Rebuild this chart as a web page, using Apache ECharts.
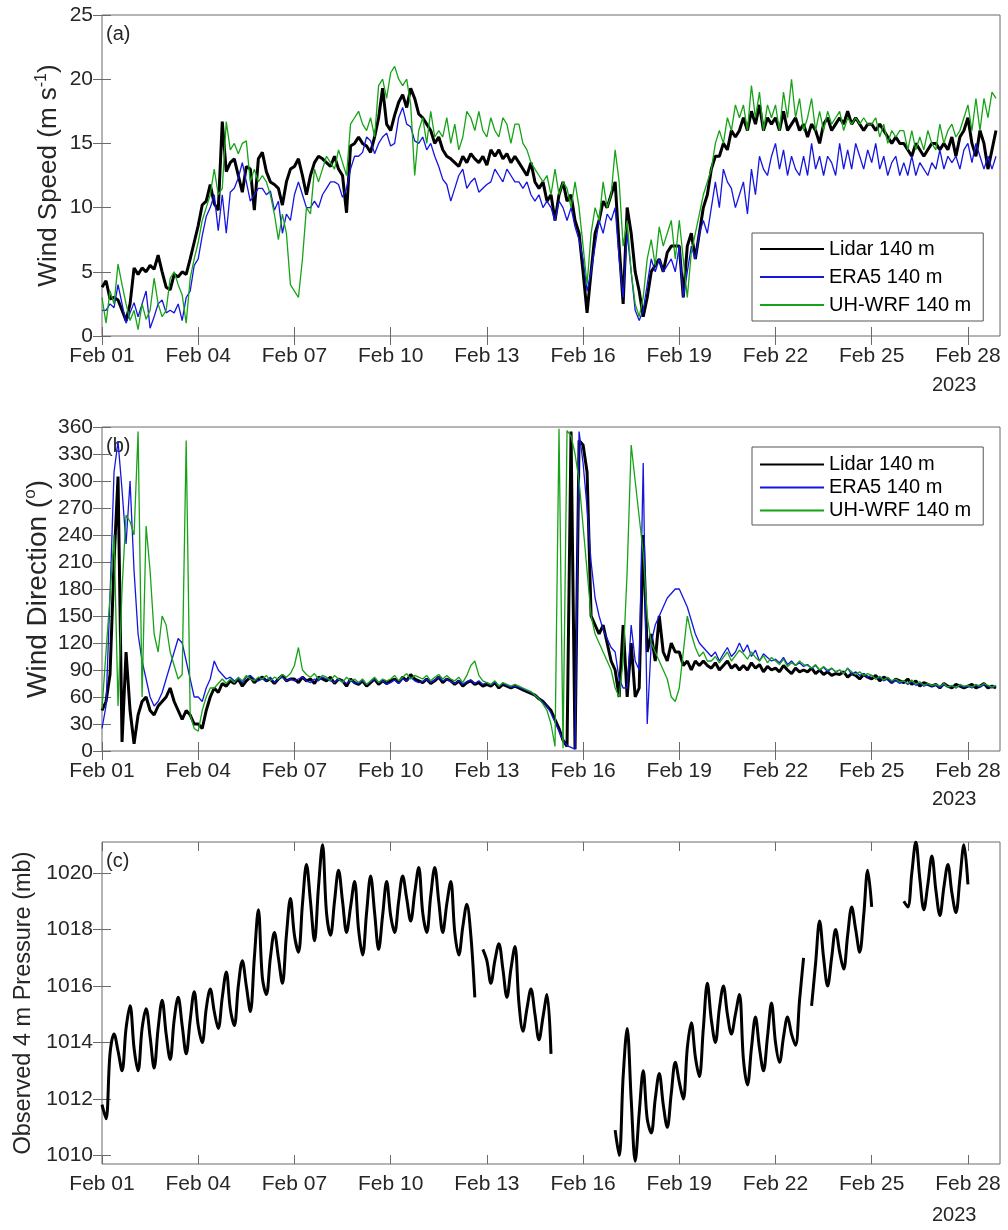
<!DOCTYPE html>
<html>
<head>
<meta charset="utf-8">
<script src="https://cdn.jsdelivr.net/npm/echarts@6.0.0/dist/echarts.min.js"></script>
<style>
  html, body { margin: 0; padding: 0; background: #fff; }
  #chart { width: 1008px; height: 1230px; }
</style>
</head>
<body>
<div id="chart"></div>
<script>
// Three stacked panels: wind speed, wind direction, surface pressure (February 2023).
// Samples are 3-hourly, starting Feb 01 00:00; x is measured in days since Feb 01.
const STEP_DAYS = 3 / 24;

const dayTicks = [0, 3, 6, 9, 12, 15, 18, 21, 24, 27];
const dayLabels = ['Feb 01', 'Feb 04', 'Feb 07', 'Feb 10', 'Feb 13', 'Feb 16', 'Feb 19', 'Feb 22', 'Feb 25', 'Feb 28'];
const speedTicks = [0, 5, 10, 15, 20, 25];
const dirTicks = [0, 30, 60, 90, 120, 150, 180, 210, 240, 270, 300, 330, 360];
const pressureTicks = [1010, 1012, 1014, 1016, 1018, 1020];
const seriesNames = ['Lidar 140 m', 'ERA5 140 m', 'UH-WRF 140 m'];

// Wind speed (m/s)
const lidarSpeed = [
  3.8,4.3,2.9,3.0,2.8,2.0,1.2,2.5,
  5.3,4.8,5.3,5.0,5.5,5.2,6.3,5.0,
  3.8,3.6,4.8,4.6,5.0,4.8,6.0,7.3,
  8.6,10.2,10.5,11.8,10.3,9.8,16.7,12.8,
  13.5,13.8,12.5,11.2,13.2,13.0,9.8,13.8,
  14.3,12.8,12.0,11.8,11.5,10.2,12.0,13.0,
  13.2,13.8,12.5,11.0,12.5,13.5,14.0,13.8,
  13.5,13.2,14.0,13.0,12.5,9.6,14.8,15.0,
  15.5,15.0,14.8,14.3,15.5,17.0,19.3,16.5,
  16.0,17.2,18.2,18.8,17.8,19.3,18.5,17.3,
  17.0,16.5,16.0,15.0,15.5,14.5,14.0,13.8,
  13.5,13.2,14.0,13.5,14.2,13.8,13.5,14.0,
  13.3,14.5,14.0,14.5,13.8,14.2,13.5,14.0,
  13.5,13.0,12.5,13.5,12.0,11.5,12.0,10.5,
  11.0,9.0,11.0,12.0,10.5,11.0,9.0,8.0,
  5.0,1.8,5.0,8.0,9.0,10.5,10.0,11.0,
  12.0,7.0,2.5,10.0,8.0,5.0,3.5,1.5,
  3.0,5.0,5.5,6.0,5.0,6.5,7.0,7.0,
  7.0,3.0,7.0,8.0,6.0,8.0,10.0,11.0,
  13.0,14.0,14.0,15.0,14.5,16.0,15.5,16.0,
  17.0,16.0,17.5,16.5,18.0,16.0,17.0,16.5,
  17.0,16.0,17.5,16.0,16.5,17.0,16.0,16.5,
  15.5,16.5,16.0,15.0,16.5,17.0,16.0,16.5,
  17.0,16.5,17.5,16.5,17.0,16.5,16.0,16.5,
  16.5,16.0,16.5,16.0,15.5,15.0,15.5,15.0,
  15.0,14.5,14.0,15.0,14.5,14.0,14.5,15.0,
  15.0,14.5,15.0,14.5,15.5,14.0,15.5,16.0,
  17.0,15.0,14.0,16.0,15.0,13.0,14.5,16.0
];
const era5Speed = [
  2.0,2.0,2.5,2.2,4.0,2.5,1.0,1.8,
  2.6,1.5,2.5,3.5,0.6,1.5,2.5,2.8,
  1.8,2.0,1.8,2.5,1.2,3.0,3.5,5.5,
  6.0,7.8,9.3,10.0,11.0,8.2,11.0,8.0,
  11.2,11.5,12.3,13.5,12.0,10.5,11.0,11.5,
  11.5,11.0,11.3,9.8,10.5,8.0,9.5,9.0,
  11.0,12.0,11.0,10.0,10.0,10.5,10.0,11.0,
  11.5,12.0,12.0,11.8,10.8,11.5,13.0,14.0,
  14.0,14.3,15.5,15.2,14.2,15.0,15.5,15.8,
  14.8,15.0,17.0,17.8,16.5,16.3,15.2,15.0,
  15.5,14.5,15.0,14.0,13.2,12.2,11.8,10.5,
  11.5,12.5,13.0,11.5,12.0,12.3,11.2,11.5,
  11.8,12.0,13.0,12.5,12.0,13.0,12.5,12.0,
  12.0,11.5,12.0,11.0,10.5,11.0,10.0,10.5,
  10.0,9.0,10.5,10.0,9.0,10.0,8.5,7.5,
  6.0,3.5,5.0,7.0,9.0,8.0,9.5,9.0,
  10.0,6.0,3.0,8.0,5.0,2.0,1.2,2.0,
  4.0,6.0,5.0,6.0,5.0,5.5,6.0,5.0,
  7.0,3.0,5.0,7.0,6.0,8.0,9.0,8.0,
  10.0,12.0,10.0,13.0,12.0,11.5,10.0,11.0,
  12.0,9.5,13.0,11.0,14.0,13.0,12.5,14.0,
  15.0,13.0,14.5,12.5,14.0,13.0,12.5,14.0,
  12.5,15.0,13.0,14.0,12.5,14.0,13.5,12.5,
  15.0,13.0,14.5,13.0,15.0,14.0,13.0,14.5,
  13.5,15.0,13.0,14.0,12.5,13.5,14.0,12.5,
  13.5,12.5,14.0,12.5,13.5,13.0,12.5,13.5,
  13.0,14.5,13.0,14.0,13.5,14.0,13.0,14.5,
  15.0,13.5,15.0,14.0,13.0,14.0,13.0,14.0
];
const wrfSpeed = [
  3.0,1.0,3.5,2.5,5.6,4.0,2.5,1.2,
  2.0,0.5,2.5,1.3,2.0,4.5,2.5,1.5,
  2.0,4.5,5.0,4.0,3.2,1.0,4.5,6.0,
  7.3,9.0,10.0,11.0,13.0,11.0,11.5,16.7,
  14.5,15.0,14.2,15.0,15.2,12.0,13.0,12.0,
  12.5,12.0,11.0,9.5,7.5,9.5,8.0,4.0,
  3.5,3.0,6.0,10.0,9.5,13.0,12.0,13.0,
  14.0,13.5,13.0,14.5,13.5,12.5,16.5,17.0,
  17.5,16.5,16.0,17.0,15.5,19.5,20.0,18.5,
  20.5,21.0,20.0,19.5,20.0,18.0,12.5,16.0,
  17.0,15.0,17.5,15.5,16.0,15.5,17.0,15.0,
  16.5,14.5,15.5,17.5,17.0,16.0,17.5,16.0,
  15.5,17.0,16.0,15.5,17.0,16.5,15.0,16.5,
  16.5,15.0,14.5,13.5,13.0,12.5,12.0,12.5,
  11.0,13.0,11.0,12.0,11.5,10.0,12.0,10.0,
  7.0,4.0,8.0,10.0,9.0,12.0,10.0,11.0,
  14.5,12.0,7.0,9.0,5.0,2.5,1.5,3.0,
  6.0,7.5,5.5,8.5,7.0,8.0,9.0,6.0,
  9.0,6.0,3.0,6.5,8.0,9.5,11.0,12.0,
  13.0,15.0,16.0,15.0,17.0,16.0,18.0,17.0,
  18.0,16.0,19.5,17.0,19.0,16.0,18.0,17.0,
  18.0,16.0,19.0,17.0,20.0,17.0,18.5,16.0,
  17.0,18.5,16.0,17.5,16.0,17.5,16.5,17.0,
  17.5,16.0,17.0,16.5,17.0,16.5,17.0,16.5,
  16.5,17.0,15.5,16.5,15.0,16.0,15.5,16.0,
  16.0,14.5,16.0,14.5,15.5,14.5,16.0,15.0,
  14.5,16.5,15.0,16.0,16.5,15.5,16.0,17.0,
  18.0,16.0,18.5,16.0,18.5,17.0,19.0,18.5
];

// Wind direction (degrees)
const lidarDir = [
  45,55,85,210,305,10,110,45,
  8,40,55,60,45,40,50,55,
  60,70,55,45,35,45,40,30,
  30,25,45,60,70,65,75,72,
  78,75,80,72,78,82,76,80,
  82,78,80,75,80,84,78,80,
  80,76,82,78,80,75,82,80,
  78,82,75,80,78,72,80,76,
  74,78,72,76,80,74,78,75,
  78,80,76,82,78,85,80,78,
  76,80,75,78,82,76,80,78,
  74,78,72,76,78,74,76,72,
  74,72,76,70,74,72,70,72,
  70,68,66,64,62,58,55,50,
  45,35,25,12,5,355,2,345,
  340,310,150,140,130,140,120,100,
  90,60,140,60,120,60,70,240,
  110,130,100,150,110,100,120,110,
  110,95,100,90,100,95,100,95,
  92,98,90,95,100,92,96,90,
  95,90,98,92,96,88,94,90,
  92,88,95,90,86,92,88,90,
  88,92,86,90,85,88,84,86,
  85,88,82,86,84,80,85,82,
  80,84,78,82,80,76,80,78,
  76,80,74,78,72,76,74,72,
  74,70,75,72,70,74,72,70,
  72,74,70,72,75,70,72,70
];
const era5Dir = [
  25,50,172,310,344,290,230,300,
  200,130,100,80,60,50,55,65,
  80,95,110,125,120,100,80,60,
  60,55,70,80,100,90,85,80,
  82,78,80,76,82,84,80,78,
  80,78,82,76,80,82,78,80,
  78,80,82,78,76,80,78,82,
  80,78,76,80,78,75,78,76,
  75,78,74,77,80,76,78,74,
  76,79,75,80,78,82,78,76,
  77,80,76,79,82,78,80,77,
  75,78,74,77,79,75,78,74,
  76,73,77,72,75,73,71,72,
  71,69,67,65,62,58,54,50,
  42,32,22,12,6,4,2,355,
  320,270,210,170,150,135,125,115,
  110,80,70,70,140,100,90,320,
  30,120,140,150,160,170,175,180,
  180,170,160,145,130,120,115,110,
  105,110,100,108,115,105,110,120,
  110,118,105,112,100,108,104,100,
  102,98,104,96,100,95,98,94,
  96,92,95,90,93,88,92,88,
  90,86,92,85,88,84,86,82,
  84,80,82,78,80,76,78,75,
  78,74,77,73,75,72,74,72,
  73,70,74,71,72,70,73,71,
  72,70,73,71,74,72,70,72
];
const wrfDir = [
  47,110,172,240,50,180,262,255,
  240,355,60,250,200,130,110,150,
  140,110,95,80,85,345,40,25,
  22,45,60,70,70,75,80,75,
  80,76,82,78,84,80,78,82,
  80,84,78,82,80,85,82,86,
  95,115,90,85,82,86,80,84,
  82,78,84,80,76,82,78,80,
  76,80,74,78,82,76,80,78,
  80,84,78,82,86,80,84,82,
  80,84,78,82,85,80,84,80,
  78,82,76,84,95,100,84,78,
  76,74,78,72,76,74,72,74,
  72,70,68,66,62,58,52,45,
  30,5,358,3,356,350,330,300,
  250,200,150,130,120,110,100,90,
  70,60,100,200,340,300,260,220,
  150,120,110,100,90,80,60,55,
  70,110,150,130,115,105,110,100,
  100,105,98,104,110,100,106,112,
  108,102,110,104,100,106,98,104,
  100,96,102,94,98,95,100,96,
  95,92,96,90,94,90,92,88,
  90,86,92,88,85,88,84,86,
  84,80,83,79,82,78,80,77,
  78,75,79,74,77,73,75,73,
  74,72,75,71,73,70,74,72,
  73,71,74,72,75,73,71,73
];

// Observed 4 m pressure (mb); null marks missing records
const pressure = [
  1011.8,1011.3,1013.6,1014.3,1013.7,1013.0,1014.5,1015.3,
  1013.8,1013.0,1014.5,1015.2,1014.2,1013.1,1014.5,1015.5,
  1014.3,1013.4,1014.8,1015.6,1014.6,1013.6,1014.8,1015.8,
  1014.6,1014.0,1015.2,1015.9,1015.1,1014.5,1015.6,1016.5,
  1015.2,1014.6,1016.0,1016.9,1016.0,1015.1,1017.0,1018.7,
  1016.3,1015.7,1017.0,1017.9,1017.0,1016.1,1017.8,1019.1,
  1017.8,1017.2,1018.9,1020.3,1019.0,1017.6,1019.5,1021.0,
  1018.6,1017.8,1019.0,1020.1,1019.0,1017.9,1018.8,1019.7,
  1018.0,1017.1,1018.6,1019.9,1018.6,1017.3,1018.5,1019.7,
  1018.5,1017.9,1019.0,1019.9,1019.1,1018.3,1019.3,1020.2,
  1018.6,1017.9,1019.2,1020.2,1019.0,1017.9,1018.9,1019.7,
  1017.9,1017.1,1018.1,1018.9,1017.8,1015.6,null,1017.3,
  1016.9,1016.1,1016.9,1017.5,1016.6,1015.6,1016.6,1017.4,
  1015.4,1014.4,1015.2,1015.9,1015.0,1014.1,1014.9,1015.7,
  1013.6,null,null,null,null,null,null,null,
  null,null,null,null,null,null,null,null,
  1010.9,1010.0,1012.8,1014.5,1012.0,1009.8,1011.5,1013.0,
  1011.3,1010.8,1012.0,1012.9,1011.8,1011.0,1012.2,1013.3,
  1012.6,1012.0,1013.8,1014.7,1013.5,1012.8,1014.5,1016.1,
  1014.8,1014.0,1015.2,1016.0,1015.0,1014.3,1015.0,1015.7,
  1013.4,1012.5,1013.8,1014.9,1013.8,1013.0,1014.2,1015.4,
  1014.0,1013.3,1014.2,1014.9,1014.3,1013.9,1015.5,1017.0,
  null,1015.3,1016.8,1018.3,1017.0,1016.0,1017.0,1018.0,
  1017.2,1016.6,1017.8,1018.8,1018.0,1017.2,1018.5,1020.1,
  1018.8,null,null,null,null,null,null,null,
  1019.0,1018.8,1020.0,1021.1,1019.8,1018.7,1019.6,1020.6,
  1019.4,1018.5,1019.5,1020.3,1019.3,1018.6,1019.8,1021.0,
  1019.6,null,null,null,null,null,null,null
];

const toPairs = arr => arr.map((v, i) => [i * STEP_DAYS, v]);

const FONT = 'Liberation Sans, Arial, sans-serif';
const AXIS_COLOR = '#6a6a6a';
const TEXT_COLOR = '#262626';
const LEFT = 102, WIDTH = 898;

const panels = [
  { top: 15,  height: 321, min: 0,      max: 25,     ticks: speedTicks,
    name: 'Wind Speed (m s{sup|-1})', nameGap: 38, nameSize: 26 },
  { top: 427, height: 324, min: 0,      max: 360,    ticks: dirTicks,
    name: 'Wind Direction ({sup|o})', nameGap: 48, nameSize: 28 },
  { top: 842, height: 322, min: 1009.7, max: 1021.1, ticks: pressureTicks,
    name: 'Observed 4 m Pressure (mb)', nameGap: 65, nameSize: 23.5 }
];

const grid = [], xAxis = [], yAxis = [];
panels.forEach((p, gi) => {
  grid.push({ left: LEFT, width: WIDTH, top: p.top, height: p.height, outerBoundsMode: 'none',
    show: true, borderColor: AXIS_COLOR, borderWidth: 1, backgroundColor: '#fff' });
  const tickStyle = { inside: true, length: 9, lineStyle: { color: AXIS_COLOR, width: 1 } };
  // bottom (labelled) and top (ticks only) time axes
  xAxis.push({
    gridIndex: gi, type: 'value', min: 0, max: 28, interval: 3, position: 'bottom',
    axisLine: { show: false }, splitLine: { show: false },
    axisTick: Object.assign({ customValues: dayTicks }, tickStyle),
    axisLabel: { customValues: dayTicks, margin: 10, fontFamily: FONT, fontSize: 21, color: TEXT_COLOR,
      formatter: v => dayLabels[dayTicks.indexOf(v)] || '' }
  });
  xAxis.push({
    gridIndex: gi, type: 'value', min: 0, max: 28, interval: 3, position: 'top',
    axisLine: { show: false }, splitLine: { show: false }, axisLabel: { show: false },
    axisTick: Object.assign({ customValues: dayTicks }, tickStyle)
  });
  // left (labelled) and right (ticks only) value axes
  yAxis.push({
    gridIndex: gi, type: 'value', min: p.min, max: p.max, position: 'left',
    axisLine: { show: false }, splitLine: { show: false },
    axisTick: Object.assign({ customValues: p.ticks }, tickStyle),
    axisLabel: { customValues: p.ticks, margin: 9, fontFamily: FONT, fontSize: 21, color: TEXT_COLOR,
      formatter: v => String(v) },
    name: p.name, nameLocation: 'middle', nameRotate: 90, nameGap: p.nameGap, nameMoveOverlap: false,
    nameTextStyle: { fontFamily: FONT, fontSize: p.nameSize, color: TEXT_COLOR,
      lineHeight: Math.round(p.nameSize * 1.15),
      rich: { sup: { fontFamily: FONT, fontSize: Math.round(p.nameSize * 0.62),
        lineHeight: Math.round(p.nameSize * 0.62), verticalAlign: 'top', color: TEXT_COLOR } } }
  });
  yAxis.push({
    gridIndex: gi, type: 'value', min: p.min, max: p.max, position: 'right',
    axisLine: { show: false }, splitLine: { show: false }, axisLabel: { show: false },
    axisTick: Object.assign({ customValues: p.ticks }, tickStyle)
  });
});

const colors = ['#000000', '#1515e0', '#17a317'];
const widths = [3, 1.3, 1.3];
function line(name, data, gi, k) {
  return {
    name, type: 'line', data: toPairs(data), xAxisIndex: gi * 2, yAxisIndex: gi * 2,
    symbol: 'none', showSymbol: false, clip: true, animation: false, connectNulls: false,
    lineStyle: { color: colors[k], width: widths[k] }, itemStyle: { color: colors[k] },
    emphasis: { disabled: true }
  };
}

const pressureLine = line('Pressure', pressure, 2, 0);
pressureLine.smooth = 0.35;

const series = [
  line(seriesNames[0], lidarSpeed, 0, 0),
  line(seriesNames[1], era5Speed, 0, 1),
  line(seriesNames[2], wrfSpeed, 0, 2),
  line(seriesNames[0], lidarDir, 1, 0),
  line(seriesNames[1], era5Dir, 1, 1),
  line(seriesNames[2], wrfDir, 1, 2),
  pressureLine
];

const legendBase = {
  data: seriesNames, orient: 'vertical', left: 752, itemWidth: 64, itemHeight: 14,
  borderColor: '#555', borderWidth: 1, backgroundColor: '#fff',
  selectedMode: false, itemStyle: { opacity: 0, borderWidth: 0 },
  textStyle: { fontFamily: FONT, fontSize: 20, color: '#000' }
};

const txt = (x, y, s) => ({ type: 'text', left: x, top: y,
  style: { text: s, fontFamily: FONT, fontSize: 20, fill: TEXT_COLOR } });

const chart = echarts.init(document.getElementById('chart'), null, { renderer: 'canvas' });
chart.setOption({
  animation: false,
  grid, xAxis, yAxis, series,
  legend: [
    Object.assign({}, legendBase, { top: 233, itemGap: 4, padding: [4, 12, 4, 7],
      textStyle: Object.assign({}, legendBase.textStyle, { lineHeight: 24 }) }),
    Object.assign({}, legendBase, { top: 447, itemGap: 0, padding: [6, 12, 3, 7],
      textStyle: Object.assign({}, legendBase.textStyle, { lineHeight: 23 }) })
  ],
  graphic: [
    txt(106, 24, '(a)'), txt(106, 436, '(b)'), txt(106, 851, '(c)'),
    txt(932, 375, '2023'), txt(932, 789, '2023'), txt(932, 1205, '2023')
  ]
});
</script>
</body>
</html>
